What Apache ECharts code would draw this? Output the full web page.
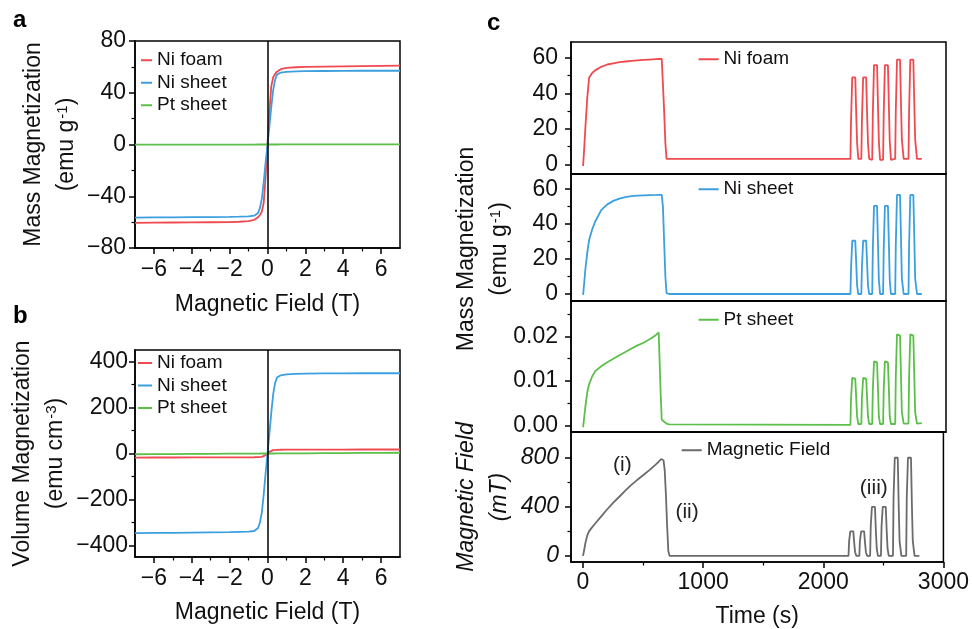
<!DOCTYPE html>
<html><head><meta charset="utf-8">
<script src="https://cdn.jsdelivr.net/npm/echarts@6/dist/echarts.min.js"></script>
<style>html,body{margin:0;padding:0;background:#fff}#c{width:972px;height:629px}</style>
</head><body><div id="c"></div>
<script>
// ---------- Panels a / b : magnetization vs field ----------
const fieldT = [-7,-6,-5,-4,-3,-2,-1.5,-1,-0.7,-0.5,-0.4,-0.3,-0.2,-0.1,0,0.1,0.2,0.3,0.4,0.5,0.7,1,1.5,2,3,4,5,6,7];
const massNiFoam = [-60.6,-60.4,-60.3,-60.2,-60.1,-60,-59.7,-59.2,-58.2,-56.3,-54.5,-52,-45,-25,0,25,45,52,54.5,56.3,58.2,59.2,59.7,60,60.2,60.4,60.6,60.8,61];
const massNiSheet = [-56.5,-56.4,-56.3,-56.2,-56.1,-56,-55.8,-55.5,-55,-53,-49,-42,-29,-14,0,14,29,42,50,54,55.6,56.2,56.5,56.7,56.8,56.9,57,57,57];
const massPtSheet = [-0.17,-0.15,-0.12,-0.1,-0.07,-0.05,-0.04,-0.03,-0.02,-0.01,-0.01,-0.008,-0.005,-0.003,0,0.003,0.005,0.008,0.01,0.01,0.02,0.03,0.04,0.05,0.07,0.1,0.12,0.15,0.17];
const volNiFoam = [-17.5,-17.4,-17.3,-17.2,-17.1,-17,-16.9,-16.7,-16.4,-16,-15.4,-14.6,-12.5,-7,0,7,12.5,14.6,15.4,16,16.4,16.7,16.9,17,17.1,17.2,17.3,17.4,17.5];
const volNiSheet = [-346,-345,-345,-344,-343,-342,-341,-340,-337,-324,-300,-257,-178,-86,0,86,178,257,306,330,340,344,346,347,348,348,349,349,349];
const volPtSheet = [-3.2,-2.7,-2.3,-1.8,-1.4,-0.9,-0.7,-0.5,-0.3,-0.2,-0.2,-0.1,-0.1,0,0,0,0.1,0.1,0.2,0.2,0.3,0.5,0.7,0.9,1.4,1.8,2.3,2.7,3.2];

// ---------- Panel c : time series ----------
const timeS = [0,10,20,35,50,75,100,150,200,250,300,350,400,450,500,550,600,625,640,650,660,670,680,690,700,710,720,
  2210,2215,2225,2250,2258,2265,2275,
  2300,2305,2315,2340,2348,2355,2365,
  2390,2395,2405,2430,2438,2445,2455,
  2480,2485,2495,2520,2528,2535,2545,
  2580,2585,2595,2620,2628,2635,2650,
  2690,2695,2705,2730,2738,2745,2760,
  2800];
const cNiFoam = [-1,10,22,38,49,51.5,53,55,56.3,57,57.6,58,58.3,58.6,58.9,59.1,59.3,59.4,59.5,59.5,45,30,12,3,3,3,3,
  3,25,49,49,28,12,3,
  3,25,49,49,28,12,3,
  2.5,28,56,56,32,13,2.5,
  2.5,28,56,56,32,13,2.5,
  3,30,59,59,34,14,3,
  3,30,59,59,34,14,3,
  3];
const cNiSheet = [-0.5,7,15,24,31,37,41.5,48,51.3,53.3,54.6,55.4,56,56.3,56.5,56.6,56.7,56.8,56.8,56.8,50,30,10,0.5,0,0,0,
  0,15,30.5,30.5,17,5,0,
  0,15,30.5,30.5,17,5,0,
  0,25,50.5,50.5,28,8,0,
  0,25,50.5,50.5,28,8,0,
  0,28,56.7,56.7,32,9,0,
  0,28,56.7,56.7,32,9,0,
  0];
const cPtSheet = [-0.0004,0.002,0.0045,0.0075,0.0093,0.011,0.0122,0.0133,0.0142,0.015,0.0158,0.0165,0.0173,0.018,0.0186,0.0194,0.0203,0.0209,0.008,0.0013,0.001,0.0008,0.0006,0.0004,0.0003,0.0002,0.0001,
  0.0001,0.006,0.0107,0.0105,0.006,0.002,0.0003,
  0.0003,0.006,0.0107,0.0105,0.006,0.002,0.0003,
  0.0003,0.008,0.0144,0.0142,0.008,0.002,0.0003,
  0.0003,0.008,0.0144,0.0142,0.008,0.002,0.0003,
  0.0003,0.011,0.0205,0.0202,0.011,0.003,0.0004,
  0.0004,0.011,0.0205,0.0202,0.011,0.003,0.0004,
  0.0005];
const cField = [0,50,105,165,200,232,262,320,378,432,480,530,577,618,657,697,740,762,778,790,800,780,700,500,250,40,0,
  0,120,200,200,100,30,0,
  0,120,200,200,100,30,0,
  0,240,400,400,200,60,0,
  0,240,400,400,200,60,0,
  0,480,800,800,400,120,0,
  0,480,800,800,400,120,0,
  0];

// ---------- tick labels ----------
const ticksFieldT = [-6,-4,-2,0,2,4,6];
const minorFieldT = [-5,-3,-1,1,3,5];
const ticksMass = [-80,-40,0,40,80];
const minorMass = [-60,-20,20,60];
const ticksVol = [-400,-200,0,200,400];
const minorVol = [-300,-100,100,300];
const ticksTime = [0,1000,2000,3000];
const minorTime = [500,1500,2500];
const ticksNi = [0,20,40,60];
const minorNi = [10,30,50];
const ticksPt = [0,0.01,0.02];
const minorPt = [0.005,0.015,0.025];
const ticksMF = [0,400,800];
const minorMF = [200,600];
const annotations = [['(i)',327,738],['(ii)',866,359],['(iii)',2421,549]];

const FONT = '"Liberation Sans", Arial, Helvetica, sans-serif';
const C_RED = '#ef4a4f', C_BLUE = '#3b9fe0', C_GREEN = '#5cbf4a', C_GRAY = '#6b6b6b';
const fmtMinus = v => String(v).replace('-', '\u2212');

const grids = [
  {left:135, top:41, width:265, height:207},
  {left:135, top:350, width:265, height:207},
  {left:571, top:42, width:375, height:132},
  {left:571, top:174, width:375, height:127},
  {left:571, top:301, width:375, height:131},
  {left:571, top:432, width:375, height:132}
].map(g => Object.assign(g, {show:true, borderColor:'#000', borderWidth:1.5, backgroundColor:'transparent'}));

const yNameStyle = (italic, padding) => ({fontSize:23, lineHeight:33, color:'#111', fontFamily:FONT, fontStyle: italic ? 'italic' : 'normal',
  padding: padding || 0,
  rich:{s:{fontSize:15, lineHeight:15, verticalAlign:'top', padding:[5,0,0,1], color:'#111', fontFamily:FONT}}});
const xNameStyle = {fontSize:23, lineHeight:23, color:'#111', fontFamily:FONT};

const xAxes = [], yAxes = [];
function addAxis(list, o) {
  list.push({
    type:'value', gridIndex:o.grid, min:o.min, max:o.max, position:o.pos,
    axisLine:{show:true, onZero:false, lineStyle:{color:'#000', width:1.5}},
    axisTick:{show:o.ticks !== false, inside:false, length:6, customValues:o.major, lineStyle:{color:'#000', width:1.5}},
    axisLabel:{show:o.labels !== false, customValues:o.major, margin:o.margin, fontSize:23, color:'#111', fontFamily:FONT,
      fontStyle:o.italic ? 'italic' : 'normal', formatter:o.fmt || fmtMinus},
    splitLine:{show:false},
    name:o.name || '', nameLocation:'middle', nameGap:o.nameGap || 0, nameTextStyle:o.nameStyle || {}
  });
  const idx = list.length - 1;
  if (o.minor) list.push({
    type:'value', gridIndex:o.grid, min:o.min, max:o.max, position:o.pos,
    axisLine:{show:false, onZero:false}, axisLabel:{show:false}, splitLine:{show:false},
    axisTick:{show:true, inside:false, length:3.5, customValues:o.minor, lineStyle:{color:'#000', width:1.2}}
  });
  return idx;
}

const xA = addAxis(xAxes, {grid:0, min:-7, max:7, pos:'bottom', major:ticksFieldT, minor:minorFieldT, margin:10.5, name:'Magnetic Field (T)', nameGap:45, nameStyle:xNameStyle});
const yA = addAxis(yAxes, {grid:0, min:-80, max:80, pos:'left', major:ticksMass, minor:minorMass, margin:9, name:'Mass Magnetization\n(emu g{s|-1})', nameGap:51.5, nameStyle:yNameStyle(false)});
const xB = addAxis(xAxes, {grid:1, min:-7, max:7, pos:'bottom', major:ticksFieldT, minor:minorFieldT, margin:10.5, name:'Magnetic Field (T)', nameGap:44, nameStyle:xNameStyle});
const yB = addAxis(yAxes, {grid:1, min:-450, max:450, pos:'left', major:ticksVol, minor:minorVol, margin:7, name:'Volume Magnetization\n(emu cm{s|-3})', nameGap:58.5, nameStyle:yNameStyle(false)});

const xC1 = addAxis(xAxes, {grid:2, min:-100, max:3000, pos:'bottom', major:ticksTime, ticks:false, labels:false});
const xC2 = addAxis(xAxes, {grid:3, min:-100, max:3000, pos:'bottom', major:ticksTime, ticks:false, labels:false});
const xC3 = addAxis(xAxes, {grid:4, min:-100, max:3000, pos:'bottom', major:ticksTime, ticks:false, labels:false});
const xC4 = addAxis(xAxes, {grid:5, min:-100, max:3000, pos:'bottom', major:ticksTime, minor:minorTime, margin:9, name:'Time (s)', nameGap:43, nameStyle:xNameStyle});

const yC1 = addAxis(yAxes, {grid:2, min:-5.5, max:69, pos:'left', major:ticksNi, minor:minorNi, margin:13});
const yC2 = addAxis(yAxes, {grid:3, min:-4, max:68.7, pos:'left', major:ticksNi, minor:minorNi, margin:13, name:'Mass Magnetization\n(emu g{s|-1})', nameGap:54.5, nameStyle:yNameStyle(false, [0,23,0,0])});
const yC3 = addAxis(yAxes, {grid:4, min:-0.0015, max:0.028, pos:'left', major:ticksPt, minor:minorPt, margin:13, fmt:v => Number(v).toFixed(2)});
const yC4 = addAxis(yAxes, {grid:5, min:-50, max:1010, pos:'left', major:ticksMF, minor:minorMF, margin:12, italic:true, name:'Magnetic Field\n(mT)', nameGap:54.5, nameStyle:yNameStyle(true)});

const pairs = (xs, ys) => xs.map((x, i) => [x, ys[i]]);
function line(name, color, xi, yi, xs, ys, extra) {
  return Object.assign({
    type:'line', name, xAxisIndex:xi, yAxisIndex:yi, data:pairs(xs, ys),
    symbol:'none', showSymbol:false, smooth:false, clip:true,
    lineStyle:{color, width:1.8}, itemStyle:{color}, emphasis:{disabled:true}
  }, extra || {});
}
const zeroLine = {silent:true, symbol:'none', label:{show:false}, lineStyle:{color:'#000', width:1.5, type:'solid'}, data:[{xAxis:0}]};

const series = [
  line('Ni foam', C_RED, xA, yA, fieldT, massNiFoam),
  line('Ni sheet', C_BLUE, xA, yA, fieldT, massNiSheet),
  line('Pt sheet', C_GREEN, xA, yA, fieldT, massPtSheet, {markLine:zeroLine}),
  line('Ni foam', C_RED, xB, yB, fieldT, volNiFoam),
  line('Ni sheet', C_BLUE, xB, yB, fieldT, volNiSheet),
  line('Pt sheet', C_GREEN, xB, yB, fieldT, volPtSheet, {markLine:zeroLine}),
  line('Ni foam', C_RED, xC1, yC1, timeS, cNiFoam),
  line('Ni sheet', C_BLUE, xC2, yC2, timeS, cNiSheet),
  line('Pt sheet', C_GREEN, xC3, yC3, timeS, cPtSheet),
  line('Magnetic Field', C_GRAY, xC4, yC4, timeS, cField, {
    markPoint:{silent:true, symbol:'circle', symbolSize:1, itemStyle:{color:'rgba(0,0,0,0)'},
      label:{show:true, position:'inside', formatter:'{b}', fontSize:21, color:'#222', fontFamily:FONT},
      data:annotations.map(a => ({name:a[0], coord:[a[1], a[2]]}))}
  })
];

function legend(names, left, top, w) {
  return {data:names, orient:'vertical', left, top, icon:'rect', itemWidth:w, itemHeight:2, itemGap:0, padding:0, selectedMode:false,
    textStyle:{fontSize:19, lineHeight:22.5, color:'#111', fontFamily:FONT}};
}

const option = {
  animation:false,
  backgroundColor:'#fff',
  grid:grids,
  xAxis:xAxes,
  yAxis:yAxes,
  legend:[
    legend(['Ni foam','Ni sheet','Pt sheet'], 141, 49, 11),
    legend(['Ni foam','Ni sheet','Pt sheet'], 138, 351.75, 14),
    legend(['Ni foam'], 698.6, 48, 20),
    legend(['Ni sheet'], 698.6, 178, 20),
    legend(['Pt sheet'], 698.6, 308.5, 20),
    legend(['Magnetic Field'], 681.7, 439, 20)
  ],
  graphic:[
    {type:'text', left:13, top:8, style:{text:'a', font:'bold 24px ' + FONT, fill:'#000'}},
    {type:'text', left:13, top:304, style:{text:'b', font:'bold 24px ' + FONT, fill:'#000'}},
    {type:'text', left:487, top:11.5, style:{text:'c', font:'bold 24px ' + FONT, fill:'#000'}}
  ],
  series
};
const chart = echarts.init(document.getElementById('c'), null, {renderer:'canvas'});
chart.setOption(option);
</script></body></html>
